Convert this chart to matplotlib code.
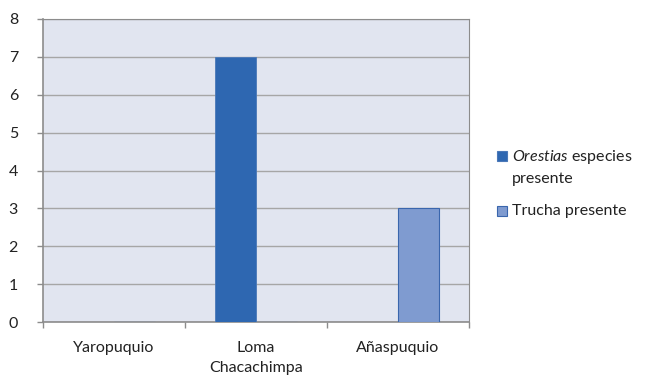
import matplotlib
matplotlib.use("Agg")
import matplotlib.pyplot as plt
from matplotlib.patches import Rectangle
import numpy as np

plt.rcParams['font.family'] = ['Lato', 'DejaVu Sans']
plt.rcParams['mathtext.fontset'] = 'custom'
plt.rcParams['mathtext.it'] = 'Lato:italic'
plt.rcParams['mathtext.rm'] = 'Lato'

categories = ["Yaropuquio", "Loma\nChacachimpa", "Añaspuquio"]
orestias = [0, 7, 0]
trucha = [0, 0, 3]
series_labels = ["$\\it{Orestias}$ especies\npresente", "Trucha presente"]
y_ticks = [0, 1, 2, 3, 4, 5, 6, 7, 8]

W, H = 649, 376
fs = 11.5
text_color = '#222222'
fill_colors = ['#2E67B1', '#7F9BD0']
edge_colors = ['#4A78B8', '#3A66AD']

fig = plt.figure(figsize=(W / 100, H / 100), dpi=100)
ax = fig.add_axes([43 / W, 54 / H, 426 / W, 303 / H])
ax.set_facecolor('#E1E5F0')

x = np.arange(len(categories))
w = 0.29
ax.bar(x - w / 2, orestias, width=w, color=fill_colors[0], edgecolor=edge_colors[0],
       linewidth=0.6, zorder=3)
ax.bar(x + w / 2, trucha, width=w, color=fill_colors[1], edgecolor=edge_colors[1],
       linewidth=0.8, zorder=3)

ax.set_xlim(-0.5, len(categories) - 0.5)
ax.set_ylim(0, 8)
ax.set_yticks(y_ticks)
ax.yaxis.grid(True, color='#A6A6A6', linewidth=1.0, zorder=1)
ax.set_axisbelow(True)

ax.set_xticks(x)
ax.set_xticklabels(categories, fontsize=fs, color=text_color, linespacing=1.55)
ax.set_xticks(np.arange(-0.5, len(categories)), minor=True)
ax.tick_params(axis='x', which='major', length=0, pad=14)
ax.tick_params(axis='x', which='minor', length=4, color='#8C8C8C', width=1)
ax.tick_params(axis='y', length=4, color='#8C8C8C', width=1, labelsize=fs,
               labelcolor=text_color, pad=14)

for side in ['left', 'bottom']:
    ax.spines[side].set_color('#8C8C8C')
    ax.spines[side].set_linewidth(1.2)
for side in ['top', 'right']:
    ax.spines[side].set_color('#8C8C8C')
    ax.spines[side].set_linewidth(0.8)

# Legend drawn by hand so the swatch sits on the first text line
sw = 10
entries = [(151, 167), (206, 211)]  # (swatch top, text centre) in pixels from top
for (sq_top, txt_c), label, fc, ec in zip(entries, series_labels, fill_colors, edge_colors):
    fig.patches.append(Rectangle((497 / W, 1 - (sq_top + sw) / H), sw / W, sw / H,
                                 transform=fig.transFigure, facecolor=fc,
                                 edgecolor=ec, linewidth=0.8))
    fig.text(512 / W, 1 - txt_c / H, label, fontsize=fs, color=text_color,
             va='center', ha='left', linespacing=1.5)

fig.savefig('out.png', dpi=100)
